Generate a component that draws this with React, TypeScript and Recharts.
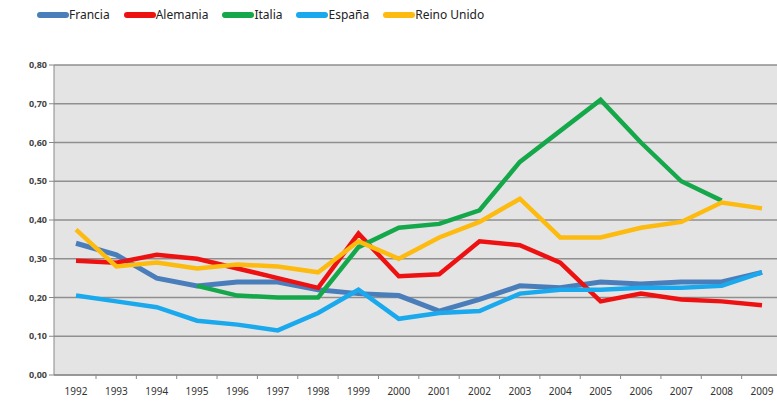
import React from 'react';
import { LineChart, Line, XAxis, YAxis, CartesianGrid, Legend } from 'recharts';

const years = ['1992', '1993', '1994', '1995', '1996', '1997', '1998', '1999', '2000', '2001', '2002', '2003', '2004', '2005', '2006', '2007', '2008', '2009'];

const francia = [0.34, 0.31, 0.25, 0.23, 0.24, 0.24, 0.22, 0.21, 0.205, 0.165, 0.195, 0.23, 0.225, 0.24, 0.235, 0.24, 0.24, 0.265];
const alemania = [0.295, 0.29, 0.31, 0.3, 0.275, 0.25, 0.225, 0.365, 0.255, 0.26, 0.345, 0.335, 0.29, 0.19, 0.21, 0.195, 0.19, 0.18];
const italia = [null, null, null, 0.23, 0.205, 0.2, 0.2, 0.33, 0.38, 0.39, 0.425, 0.55, 0.63, 0.71, 0.6, 0.5, 0.45, null];
const espana = [0.205, 0.19, 0.175, 0.14, 0.13, 0.115, 0.16, 0.22, 0.145, 0.16, 0.165, 0.21, 0.22, 0.22, 0.225, 0.225, 0.23, 0.265];
const reinoUnido = [0.375, 0.28, 0.29, 0.275, 0.285, 0.28, 0.265, 0.345, 0.3, 0.355, 0.395, 0.455, 0.355, 0.355, 0.38, 0.395, 0.445, 0.43];

const yTicks = [0, 0.1, 0.2, 0.3, 0.4, 0.5, 0.6, 0.7, 0.8];

const series = [
  { key: 'Francia', color: '#4a7ebb', width: 5 },
  { key: 'Alemania', color: '#ee1111', width: 4.5 },
  { key: 'Italia', color: '#14a84a', width: 4.5 },
  { key: 'España', color: '#1aa9ec', width: 4.5 },
  { key: 'Reino Unido', color: '#fdbb10', width: 4.5 },
];

const data = years.map((year, i) => ({
  year,
  Francia: francia[i],
  Alemania: alemania[i],
  Italia: italia[i],
  'España': espana[i],
  'Reino Unido': reinoUnido[i],
}));

const FONT = '"Noto Sans", sans-serif';

const LegendContent = () => (
  <div style={{ display: 'flex', alignItems: 'center', paddingLeft: 37, fontFamily: FONT, fontSize: 12, color: '#222' }}>
    {series.map((s) => (
      <div key={s.key} style={{ display: 'flex', alignItems: 'center', marginRight: 14 }}>
        <span style={{ display: 'inline-block', width: 32, height: 6, borderRadius: 3, background: s.color }} />
        <span>{s.key}</span>
      </div>
    ))}
  </div>
);

const XTick = (props: any) => {
  const { x, y, payload } = props;
  return (
    <g>
      <line x1={x + 20} x2={x + 20} y1={y - 8} y2={y - 4} stroke="#888" />
      <text x={x} y={y + 12} textAnchor="middle" fontSize={10} fontFamily={FONT} fill="#333">
        {payload.value}
      </text>
    </g>
  );
};

export default function App() {
  return (
    <div style={{ position: 'absolute', left: 0, top: 0, background: '#fff' }}>
      <LineChart width={777} height={401} data={data} margin={{ top: 48, right: 0, bottom: 6, left: 0 }}>
        <Legend verticalAlign="top" align="left" content={<LegendContent />} wrapperStyle={{ top: 6, left: 0 }} />
        <CartesianGrid vertical={false} fill="#e4e4e4" stroke="#8f8f8f" strokeWidth={1.5} />
        <XAxis
          dataKey="year"
          padding={{ left: 22, right: 15 }}
          height={20}
          tickLine={false}
          axisLine={{ stroke: '#888' }}
          tick={<XTick />}
          interval={0}
        />
        <YAxis
          domain={[0, 0.8]}
          ticks={yTicks}
          width={54}
          tickSize={5}
          tickLine={{ stroke: '#888' }}
          axisLine={{ stroke: '#888' }}
          tickFormatter={(v: number) => v.toFixed(2).replace('.', ',')}
          tick={{ fontSize: 9, fontFamily: FONT, fill: '#444', fontWeight: 'bold' }}
        />
        {series.map((s) => (
          <Line
            key={s.key}
            type="linear"
            dataKey={s.key}
            stroke={s.color}
            strokeWidth={s.width}
            dot={false}
            isAnimationActive={false}
          />
        ))}
      </LineChart>
    </div>
  );
}
